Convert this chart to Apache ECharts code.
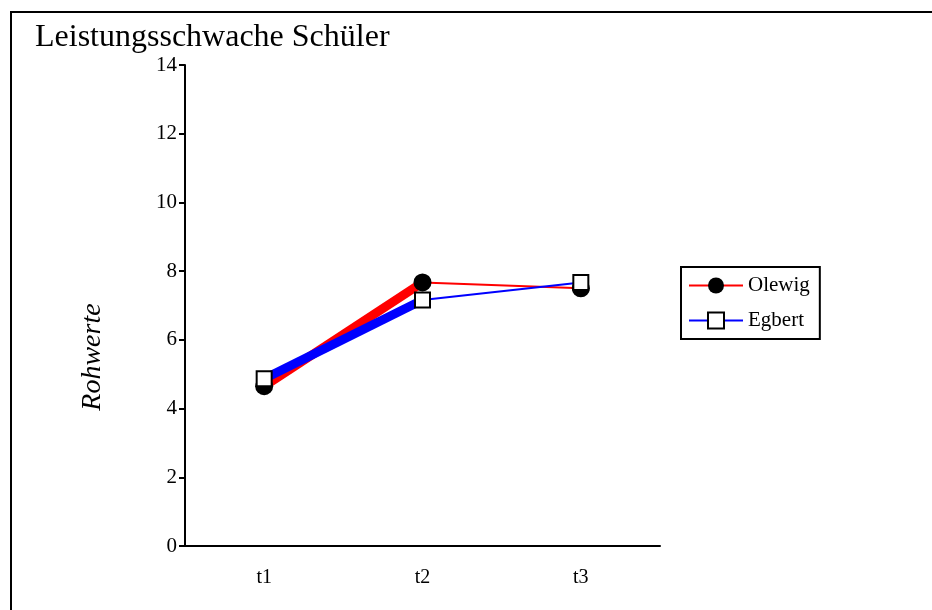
<!DOCTYPE html>
<html>
<head>
<meta charset="utf-8">
<script src="https://cdn.jsdelivr.net/npm/echarts@6/dist/echarts.min.js"></script>
<style>
  html, body { margin: 0; padding: 0; background: #fff; }
  #chart { width: 932px; height: 610px; }
</style>
</head>
<body>
<div id="chart"></div>
<script>
// Raw scores of the low-achieving group at three measurement points
const categories = ['t1', 't2', 't3'];
const olewig = [4.65, 7.67, 7.5];
const egbert = [4.87, 7.16, 7.67];
const yTicks = { min: 0, max: 14, interval: 2 };

const FONT = 'Liberation Serif, Times New Roman, serif';

// First segment (t1 -> t2) is drawn heavy, the rest thin
const firstLeg = arr => arr.map((v, i) => (i <= 1 ? v : '-'));
const restLegs = arr => arr.map((v, i) => (i >= 1 ? v : '-'));

const chart = echarts.init(document.getElementById('chart'), null, { renderer: 'canvas' });

chart.setOption({
  animation: false,
  backgroundColor: '#fff',
  title: {
    text: 'Leistungsschwache Schüler',
    left: 30,
    top: 17,
    textStyle: { fontFamily: FONT, fontSize: 32, fontWeight: 'normal', color: '#000' }
  },
  grid: { left: 185, right: 272, top: 65, bottom: 64, containLabel: false },
  legend: {
    data: ['Olewig', 'Egbert'],
    orient: 'vertical',
    left: 681,
    top: 267,
    padding: [8, 10, 8, 7],
    itemWidth: 54,
    itemHeight: 20,
    itemGap: 14,
    borderColor: '#000',
    borderWidth: 2,
    borderRadius: 0,
    textStyle: { fontFamily: FONT, fontSize: 21, color: '#000' }
  },
  xAxis: {
    type: 'category',
    data: categories,
    boundaryGap: true,
    axisLine: { lineStyle: { color: '#000', width: 2 } },
    axisTick: { show: false },
    axisLabel: { fontFamily: FONT, fontSize: 20, color: '#000', margin: 22 },
    splitLine: { show: false }
  },
  yAxis: {
    type: 'value',
    min: yTicks.min,
    max: yTicks.max,
    interval: yTicks.interval,
    axisLine: { show: true, lineStyle: { color: '#000', width: 2 } },
    axisTick: { show: true, inside: false, length: 6, lineStyle: { color: '#000', width: 2 } },
    axisLabel: { fontFamily: FONT, fontSize: 21, color: '#000', margin: 8 },
    splitLine: { show: false }
  },
  graphic: [
    {
      type: 'rect',
      silent: true,
      shape: { x: 11, y: 12, width: 1200, height: 1200 },
      style: { fill: 'none', stroke: '#000', lineWidth: 2 },
      z: 0
    },
    {
      type: 'text',
      silent: true,
      x: 93,
      y: 357,
      rotation: Math.PI / 2,
      style: {
        text: 'Rohwerte',
        fontFamily: FONT,
        fontSize: 28,
        fontStyle: 'italic',
        fill: '#000',
        align: 'center',
        verticalAlign: 'middle'
      }
    }
  ],
  series: [
    {
      name: 'Olewig',
      type: 'line',
      data: restLegs(olewig),
      z: 3,
      symbol: 'circle',
      symbolSize: 18,
      showSymbol: false,
      lineStyle: { color: '#ff0000', width: 2 },
      itemStyle: { color: '#000' }
    },
    {
      name: 'Egbert',
      type: 'line',
      data: restLegs(egbert),
      z: 3,
      symbol: 'rect',
      symbolSize: 15,
      showSymbol: false,
      lineStyle: { color: '#0000ff', width: 2 },
      itemStyle: { color: '#fff', borderColor: '#000', borderWidth: 2 }
    },
    {
      name: 'Olewig t1-t2',
      type: 'line',
      data: firstLeg(olewig),
      z: 2,
      showSymbol: false,
      symbol: 'none',
      lineStyle: { color: '#ff0000', width: 9 }
    },
    {
      name: 'Egbert t1-t2',
      type: 'line',
      data: firstLeg(egbert),
      z: 2,
      showSymbol: false,
      symbol: 'none',
      lineStyle: { color: '#0000ff', width: 9 }
    },
    {
      name: 'Olewig Punkte',
      type: 'scatter',
      data: olewig,
      z: 4,
      symbol: 'circle',
      symbolSize: 18,
      itemStyle: { color: '#000', opacity: 1 }
    },
    {
      name: 'Egbert Punkte',
      type: 'scatter',
      data: egbert,
      z: 4,
      symbol: 'rect',
      symbolSize: 15,
      itemStyle: { color: '#fff', borderColor: '#000', borderWidth: 2, opacity: 1 }
    }
  ]
});
</script>
</body>
</html>
